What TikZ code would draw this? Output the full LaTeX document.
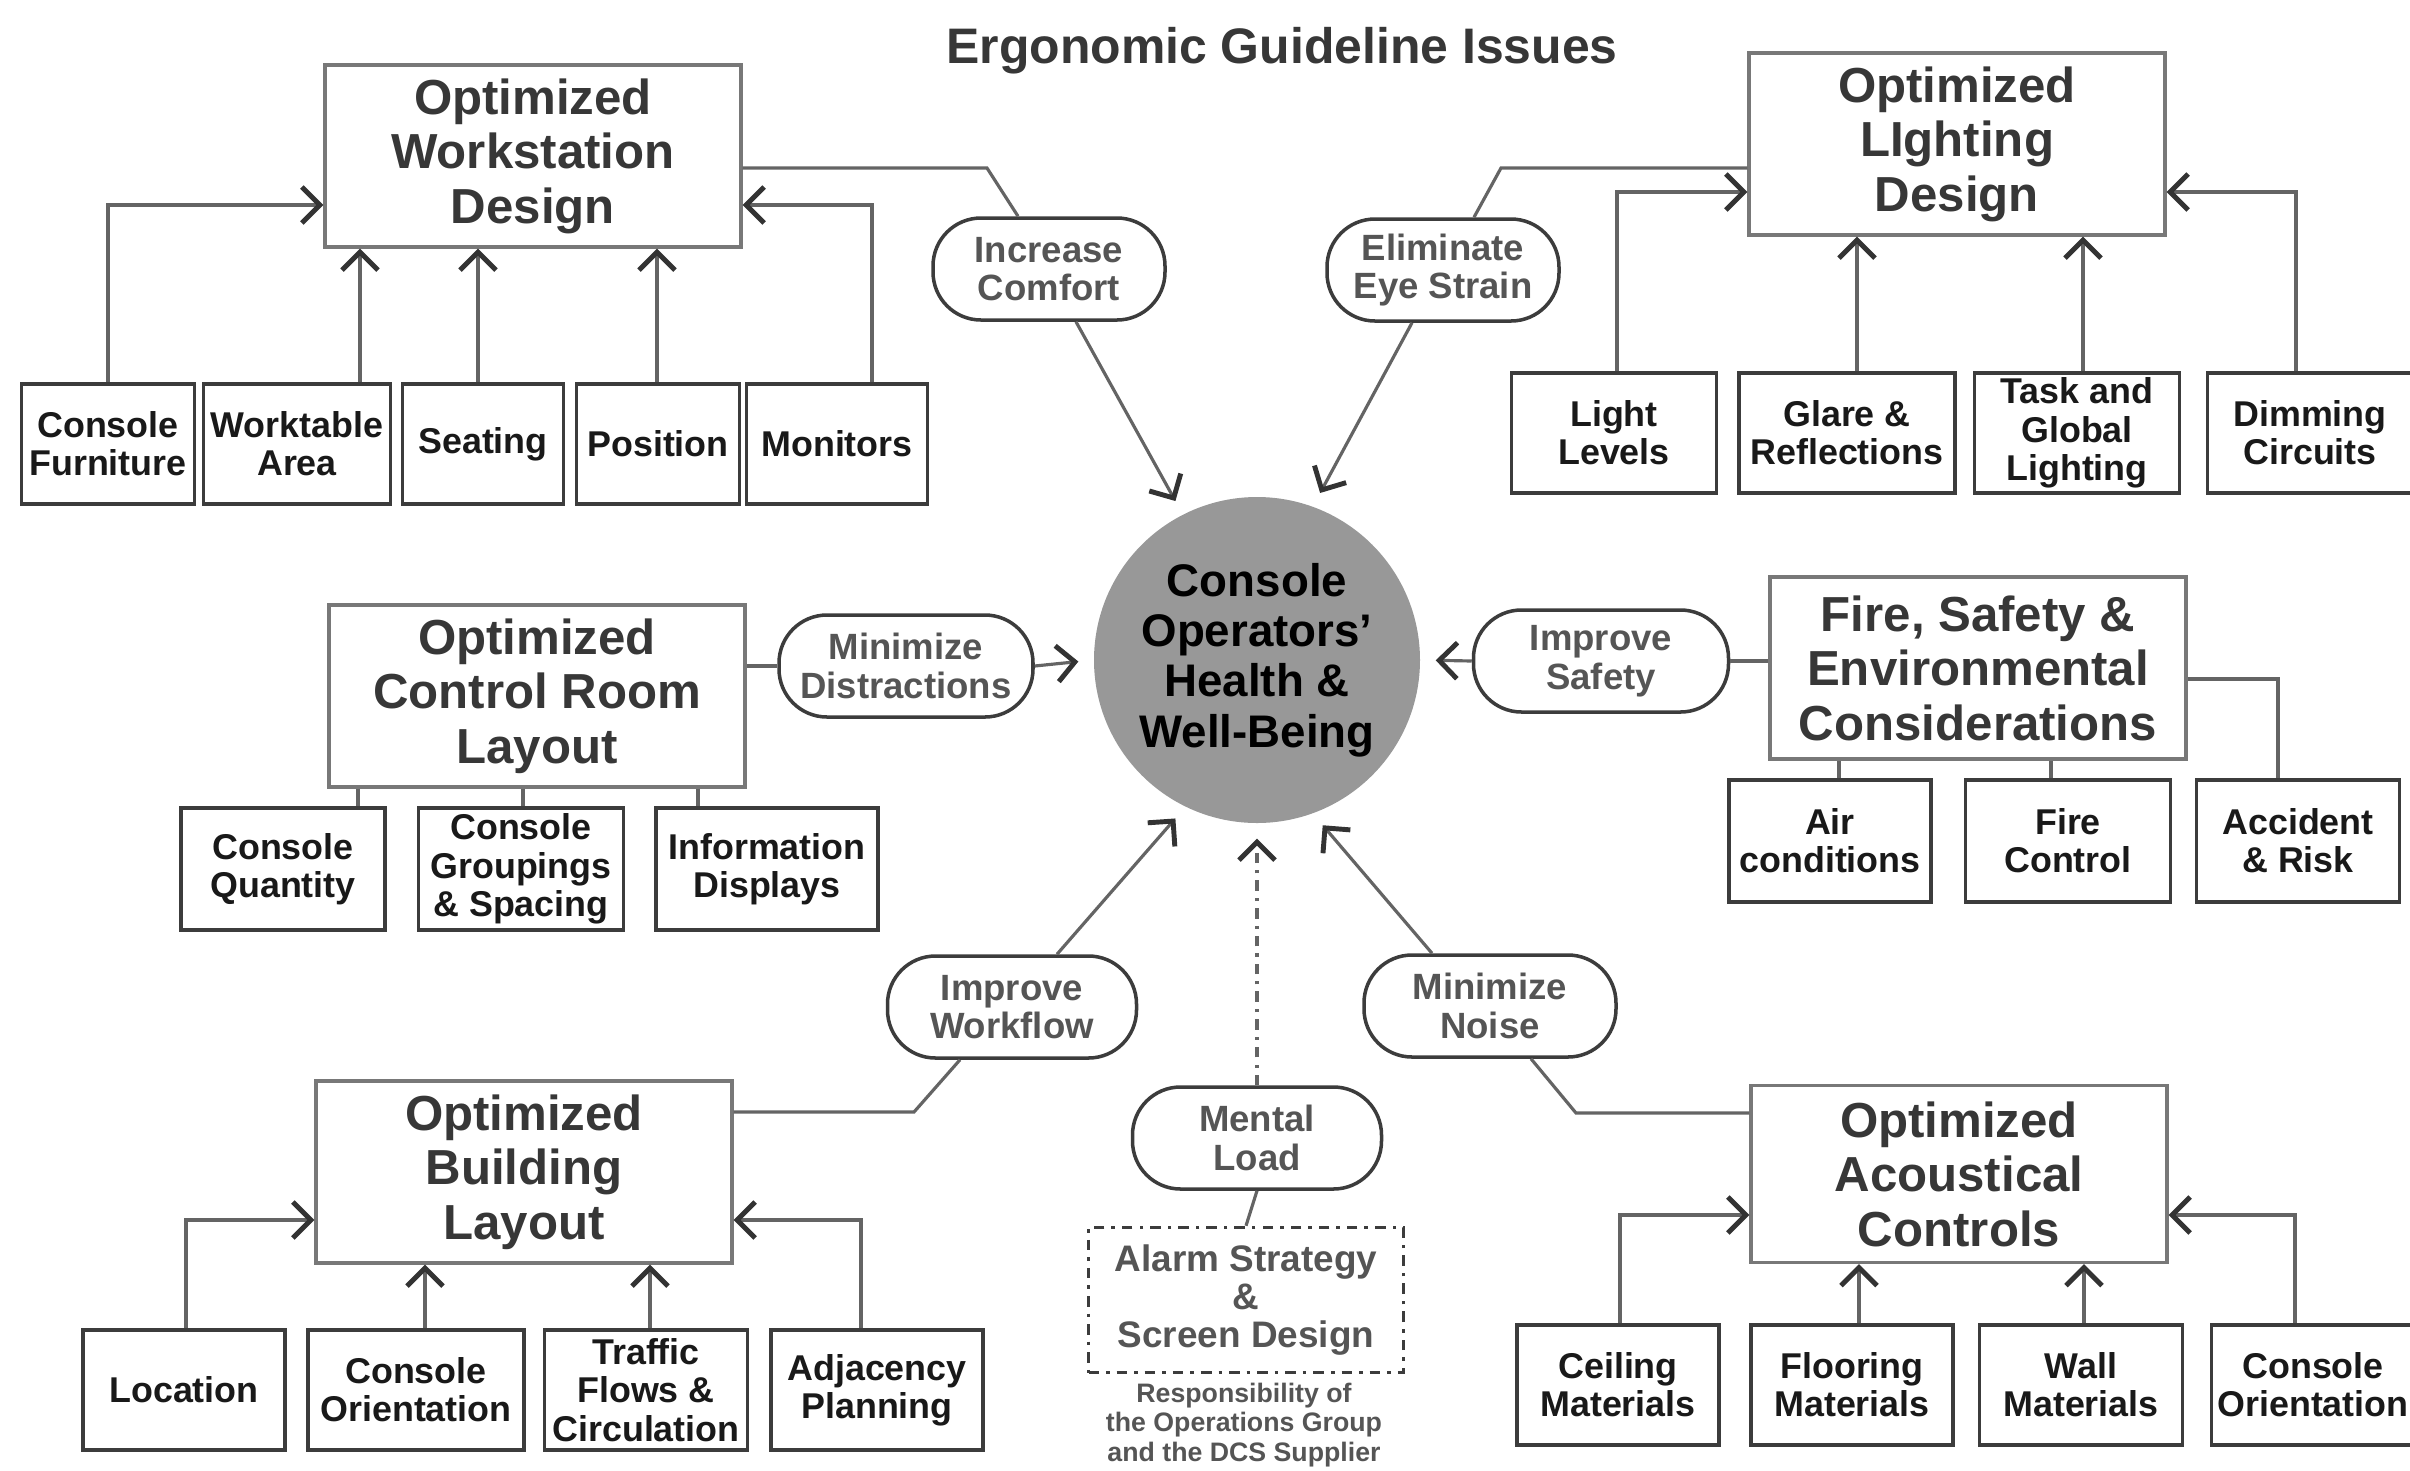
\documentclass[tikz,border=0pt]{standalone}
\usepackage{fontspec}
\setmainfont{Liberation Sans}
\usetikzlibrary{arrows.meta}
\usetikzlibrary{calc}
\usepackage{color}
\definecolor{hubgray}{RGB}{152, 152, 152}
\definecolor{boxline}{RGB}{120, 120, 120}
\definecolor{leafline}{RGB}{60, 60, 60}
\definecolor{linkgray}{RGB}{100, 100, 100}
\definecolor{titletext}{RGB}{55, 55, 55}
\definecolor{pilltext}{RGB}{85, 85, 85}

\tikzset{
  bigbox/.style={draw=boxline, line width=0.9pt, minimum width=41.6mm, minimum height=18.2mm,
                 inner sep=0pt, align=center, text=titletext, font=\fontsize{14}{15.5}\selectfont\bfseries},
  leafbox/.style={draw=leafline, line width=1.1pt, minimum height=12mm, inner sep=0pt,
                  align=center, text=black!90, font=\fontsize{10.2}{10.9}\selectfont\bfseries},
  pill/.style={draw=leafline, line width=1pt, rounded corners=4.8mm, minimum height=10.2mm,
               inner sep=0pt, align=center, text=pilltext, font=\fontsize{10.4}{11}\selectfont\bfseries},
  hub/.style={circle, fill=hubgray, minimum size=32.6mm, inner sep=0pt, align=center,
              font=\fontsize{13}{14.3}\selectfont\bfseries},
  link/.style={draw=linkgray, line width=0.9pt},
  arr/.style={link, -{Straight Barb[length=1.8mm, width=3.6mm, line width=1.4pt, color=black!80]}},
}

\begin{document}
\begin{tikzpicture}[x=0.1mm, y=-0.1mm]
            % Frame to ensure alignment:
            \fill[white] (0,0) rectangle (2410,1470);
            \useasboundingbox (0,0) rectangle (2410,1470);

            \node[text=titletext, font=\fontsize{14.2}{16}\selectfont\bfseries] (title) at (1282,  51) {Ergonomic Guideline Issues};
            \node[hub]                         (hub)        at (1257, 660) {Console\\Operators'\\Health \&\\Well-Being};

            % workstation
            \node[bigbox]                      (workstation) at ( 533, 156) {Optimized\\Workstation\\Design};
            \node[leafbox, minimum width=17.3mm] (furniture)  at ( 108, 444) {Console\\Furniture};
            \node[leafbox, minimum width=18.7mm] (worktable)  at ( 297, 444) {Worktable\\Area};
            \node[leafbox, minimum width=16.1mm] (seating)    at ( 483, 444) {Seating};
            \node[leafbox, minimum width=16.3mm] (position)   at ( 658, 444) {Position};
            \node[leafbox, minimum width=18.1mm] (monitors)   at ( 837, 444) {Monitors};
            \node[pill,    minimum width=23.2mm] (comfort)    at (1049, 269) {Increase\\Comfort};

            % lighting
            \node[bigbox]                      (lighting)   at (1957, 144) {Optimized\\LIghting\\Design};
            \node[leafbox, minimum width=20.5mm] (lightlev)   at (1614, 433) {Light\\Levels};
            \node[leafbox, minimum width=21.6mm] (glare)      at (1847, 433) {Glare \&\\Reflections};
            \node[leafbox, minimum width=20.5mm] (taskglobal) at (2077, 433) {Task and\\Global\\Lighting};
            \node[leafbox, minimum width=20.5mm] (dimming)    at (2310, 433) {Dimming\\Circuits};
            \node[pill,    minimum width=23.2mm] (eyestrain)  at (1443, 270) {Eliminate\\Eye Strain};

            % control room
            \node[bigbox]                      (controlroom) at ( 537, 696) {Optimized\\Control Room\\Layout};
            \node[leafbox, minimum width=20.4mm, minimum height=12.2mm] (cquantity) at ( 283, 869) {Console\\Quantity};
            \node[leafbox, minimum width=20.5mm, minimum height=12.2mm] (cgroup)    at ( 521, 869) {Console\\Groupings\\\& Spacing};
            \node[leafbox, minimum width=22.2mm, minimum height=12.2mm] (infodisp)  at ( 767, 869) {Information\\Displays};
            \node[pill,    minimum width=25.4mm] (distract)   at ( 906, 666) {Minimize\\Distractions};

            % fire and safety
            \node[bigbox]                      (fire)       at (1978, 668) {Fire, Safety \&\\Environmental\\Considerations};
            \node[leafbox, minimum width=20.2mm, minimum height=12.2mm] (aircond)   at (1830, 841) {Air\\conditions};
            \node[leafbox, minimum width=20.5mm, minimum height=12.2mm] (firectrl)  at (2068, 841) {Fire\\Control};
            \node[leafbox, minimum width=20.3mm, minimum height=12.2mm] (accident)  at (2298, 841) {Accident\\\& Risk};
            \node[pill,    minimum width=25.5mm] (safety)     at (1601, 661) {Improve\\Safety};

            % building
            \node[bigbox]                      (building)   at ( 524,1172) {Optimized\\Building\\Layout};
            \node[leafbox, minimum width=20.2mm] (location)   at ( 184,1390) {Location};
            \node[leafbox, minimum width=21.6mm] (corient)    at ( 416,1390) {Console\\Orientation};
            \node[leafbox, minimum width=20.3mm] (traffic)    at ( 646,1390) {Traffic\\Flows \&\\Circulation};
            \node[leafbox, minimum width=21.2mm] (adjacency)  at ( 877,1390) {Adjacency\\Planning};
            \node[pill,    minimum width=24.9mm] (workflow)   at (1012,1007) {Improve\\Workflow};

            % acoustics
            \node[bigbox, minimum height=17.7mm] (acoustic) at (1959,1174) {Optimized\\Acoustical\\Controls};
            \node[leafbox, minimum width=20.2mm] (ceiling)    at (1618,1385) {Ceiling\\Materials};
            \node[leafbox, minimum width=20.2mm] (flooring)   at (1852,1385) {Flooring\\Materials};
            \node[leafbox, minimum width=20.3mm] (wall)       at (2081,1385) {Wall\\Materials};
            \node[leafbox, minimum width=20.3mm] (aorient)    at (2313,1385) {Console\\Orientation};
            \node[pill,    minimum width=25.2mm] (noise)      at (1490,1006) {Minimize\\Noise};

            % mental load
            \node[pill,    minimum width=24.9mm] (mental)     at (1257,1138) {Mental\\Load};
            \node[draw=leafline, line width=1pt, dash dot, minimum width=31.5mm, minimum height=14.5mm,
                  inner sep=0pt, align=center, text=pilltext, font=\fontsize{10.5}{10.9}\selectfont\bfseries]
                                               (alarm)      at (1246,1300) {Alarm Strategy\\\&\\Screen Design};
            \node[align=center, inner sep=0pt, text=pilltext, font=\fontsize{7.6}{8.3}\selectfont\bfseries]
                                               (resp)       at (1244,1425) {Responsibility of\\the Operations Group\\and the DCS Supplier};

            % workstation links
            \draw[arr]  (furniture.north)        |- (workstation.west |- 0,205);
            \draw[arr]  (worktable.north -| 360,0) -- (360,0 |- workstation.south);
            \draw[arr]  (seating.north -| 478,0)   -- (478,0 |- workstation.south);
            \draw[arr]  (position.north -| 657,0)  -- (657,0 |- workstation.south);
            \draw[arr]  (monitors.north -| 872,0)  |- (workstation.east |- 0,205);
            \draw[link] (workstation.east |- 0,168) -- (987,168) -- (comfort.north -| 1018,0);
            \draw[arr, shorten >=1.5mm] (comfort.south -| 1076,0) -- (hub.117);

            % lighting links
            \draw[arr]  (lightlev.north -| 1617,0)   |- (lighting.west |- 0,192);
            \draw[arr]  (glare.north -| 1857,0)      -- (1857,0 |- lighting.south);
            \draw[arr]  (taskglobal.north -| 2083,0) -- (2083,0 |- lighting.south);
            \draw[arr]  (dimming.north -| 2296,0)    |- (lighting.east |- 0,192);
            \draw[link] (lighting.west |- 0,168) -- (1501,168) -- (eyestrain.north -| 1474,0);
            \draw[arr, shorten >=1.5mm] (eyestrain.south -| 1412,0) -- (hub.70);

            % control room links
            \draw[link] (controlroom.south -| 358,0) -- (358,0 |- cquantity.north);
            \draw[link] (controlroom.south -| 523,0) -- (523,0 |- cgroup.north);
            \draw[link] (controlroom.south -| 698,0) -- (698,0 |- infodisp.north);
            \draw[link] (controlroom.east |- distract.west) -- (distract.west);
            \draw[arr, shorten >=1.5mm] (distract.east) -- (hub.180);

            % fire and safety links
            \draw[link] (fire.south -| 1839,0) -- (1839,0 |- aircond.north);
            \draw[link] (fire.south -| 2051,0) -- (2051,0 |- firectrl.north);
            \draw[link] (fire.east |- 0,679)   -| (accident.north -| 2278,0);
            \draw[link] (fire.west |- safety.east) -- (safety.east);
            \draw[arr, shorten >=1.5mm] (safety.west) -- (hub.0);

            % building links
            \draw[arr]  (location.north -| 186,0)  |- (building.west |- 0,1220);
            \draw[arr]  (corient.north -| 425,0)   -- (425,0 |- building.south);
            \draw[arr]  (traffic.north -| 650,0)   -- (650,0 |- building.south);
            \draw[arr]  (adjacency.north -| 861,0) |- (building.east |- 0,1220);
            \draw[link] (building.east |- 0,1112) -- (914,1112) -- (workflow.south -| 960,0);
            \draw[arr, shorten >=1.5mm] (workflow.north -| 1057,0) -- (hub.244);

            % acoustic links
            \draw[arr]  (ceiling.north -| 1620,0)  |- (acoustic.west |- 0,1215);
            \draw[arr]  (flooring.north -| 1859,0) -- (1859,0 |- acoustic.south);
            \draw[arr]  (wall.north -| 2084,0)     -- (2084,0 |- acoustic.south);
            \draw[arr]  (aorient.north -| 2295,0)  |- (acoustic.east |- 0,1215);
            \draw[link] (acoustic.west |- 0,1113) -- (1576,1113) -- (noise.south -| 1531,0);
            \draw[arr, shorten >=1.5mm] (noise.north -| 1432,0) -- (hub.290);

            % mental load links
            \draw[arr, dash dot, shorten >=1.5mm] (mental.north) -- (hub.270);
            \draw[link] (mental.south) -- (alarm.north);
        \end{tikzpicture}
\end{document}
